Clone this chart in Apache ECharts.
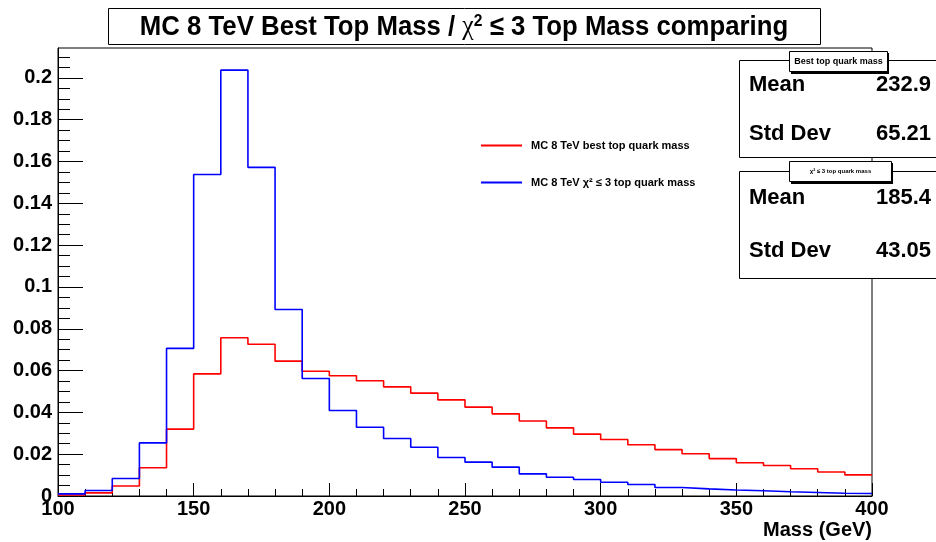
<!DOCTYPE html>
<html>
<head>
<meta charset="utf-8">
<script src="https://cdn.jsdelivr.net/npm/echarts@6/dist/echarts.min.js"></script>
<style>html,body{margin:0;padding:0;background:#fff;}#c{width:936px;height:542px;}</style>
</head>
<body>
<div id="c"></div>
<script>
// ---- data ----
var binLow = [100,110,120,130,140,150,160,170,180,190,200,210,220,230,240,250,260,270,280,290,300,310,320,330,340,350,360,370,380,390];
var binHigh = 400;
var bestTop = [0.0005,0.0015,0.0048,0.0135,0.0320,0.0584,0.0757,0.0726,0.0645,0.0597,0.0575,0.0551,0.0522,0.0492,0.0460,0.0425,0.0393,0.0359,0.0326,0.0296,0.0270,0.0245,0.0222,0.0202,0.0179,0.0159,0.0146,0.0130,0.0115,0.0101];
var chi2Top = [0.0010,0.0026,0.0084,0.0254,0.0706,0.1538,0.2037,0.1572,0.0892,0.0562,0.0409,0.0329,0.0275,0.0233,0.0184,0.0162,0.0138,0.0106,0.0090,0.0079,0.0066,0.0055,0.0041,0.0034,0.0029,0.0025,0.0020,0.0017,0.0013,0.0012];
var yTickValues = [0,0.02,0.04,0.06,0.08,0.1,0.12,0.14,0.16,0.18,0.2];
var yTickLabels = ['0','0.02','0.04','0.06','0.08','0.1','0.12','0.14','0.16','0.18','0.2'];
var xTickLabels = ['100','150','200','250','300','350','400'];
var seriesNames = ['MC 8 TeV best top quark mass','MC 8 TeV \u03c7\u00b2 \u2264 3 top quark mass'];
var stats1 = {title:'Best top quark mass', mean:'232.9', std:'65.21'};
var stats2 = {title:'\u03c7\u00b2 \u2264 3 top quark mass', mean:'185.4', std:'43.05'};

function histPoints(vals){
  var pts = [];
  for (var i=0;i<vals.length;i++) pts.push([binLow[i], vals[i]]);
  pts.push([binHigh, vals[vals.length-1]]);
  return pts;
}
var yMinor = [];
for (var k=1;k<=42;k++){ if (k%4!==0) yMinor.push(+(k*0.005).toFixed(3)); }

var FF = '"Liberation Sans", Arial, Helvetica, sans-serif';
var chart = echarts.init(document.getElementById('c'), null, {renderer:'canvas'});

function statBox(s, top, h, tabTop, tabW, tabFont, rowY1, rowY2){
  return [
    {type:'rect', shape:{x:739.5,y:top+0.5,width:220,height:h}, style:{fill:'#fff',stroke:'#000',lineWidth:1}, z:10},
    {type:'rect', shape:{x:791,y:tabTop+2,width:tabW,height:21}, style:{fill:'#000'}, z:11},
    {type:'rect', shape:{x:789.5,y:tabTop+0.5,width:tabW,height:20}, style:{fill:'#fff',stroke:'#000',lineWidth:1}, z:12},
    {type:'text', x:789.5+tabW/2, y:tabTop+10.5, style:{text:s.title, fontFamily:FF, fontWeight:'bold', fontSize:tabFont, fill:'#000', align:'center', verticalAlign:'middle'}, z:13},
    {type:'text', x:749, y:rowY1, style:{text:'Mean', fontFamily:FF, fontWeight:'bold', fontSize:22, fill:'#000', align:'left', verticalAlign:'middle'}, z:13},
    {type:'text', x:931, y:rowY1, style:{text:s.mean, fontFamily:FF, fontWeight:'bold', fontSize:22, fill:'#000', align:'right', verticalAlign:'middle'}, z:13},
    {type:'text', x:749, y:rowY2, style:{text:'Std Dev', fontFamily:FF, fontWeight:'bold', fontSize:22, fill:'#000', align:'left', verticalAlign:'middle'}, z:13},
    {type:'text', x:931, y:rowY2, style:{text:s.std, fontFamily:FF, fontWeight:'bold', fontSize:22, fill:'#000', align:'right', verticalAlign:'middle'}, z:13}
  ];
}

var graphics = [
  {type:'rect', shape:{x:108.5,y:8.5,width:712,height:36}, style:{fill:'#fff',stroke:'#000',lineWidth:1}, z:10},
  {type:'text', x:464, y:27, scaleX:0.92, z:11,
   style:{text:'MC 8 TeV Best Top Mass / {chi|\u03c7}{sup|2} \u2264 3 Top Mass comparing',
     fontFamily:FF, fontWeight:'bold', fontSize:28, fill:'#000', align:'center', verticalAlign:'middle',
     rich:{chi:{fontFamily:'"Liberation Serif", serif', fontSize:28, fontWeight:'normal', fill:'#000'},
           sup:{fontFamily:FF, fontSize:17, fontWeight:'bold', fill:'#000', padding:[0,0,11,0]}}}},
  {type:'text', x:872, y:530, z:11, style:{text:'Mass (GeV)', fontFamily:FF, fontWeight:'bold', fontSize:20, fill:'#000', align:'right', verticalAlign:'middle'}}
].concat(statBox(stats1, 60, 97, 51, 98, 9, 85, 134)).concat(statBox(stats2, 171, 107, 161, 102, 6, 198, 251));

chart.setOption({
  animation:false,
  backgroundColor:'#fff',
  grid:{left:58, right:64, top:48, bottom:46, show:true, borderColor:'#000', borderWidth:1, backgroundColor:'transparent'},
  legend:{
    orient:'vertical', left:481, top:140, padding:0, itemWidth:41, itemHeight:2, itemGap:26, icon:'rect',
    data:seriesNames,
    textStyle:{fontFamily:FF, fontWeight:'bold', fontSize:11, color:'#000', padding:[0,0,0,4]}
  },
  xAxis:{
    type:'value', min:100, max:400, interval:50,
    axisLine:{show:true, onZero:false, lineStyle:{color:'#000', width:1}},
    axisTick:{show:true, inside:true, length:13, lineStyle:{color:'#000', width:1}},
    minorTick:{show:true, splitNumber:5, length:7, lineStyle:{color:'#000', width:1}},
    splitLine:{show:false},
    axisLabel:{fontFamily:FF, fontWeight:'bold', fontSize:20, color:'#000', margin:3,
      formatter:function(v){ var i=Math.round((v-100)/50); return xTickLabels[i]; }}
  },
  yAxis:[{
    type:'value', min:0, max:0.2143,
    axisLine:{show:true, lineStyle:{color:'#000', width:1}},
    axisTick:{show:true, inside:true, length:25, customValues:yTickValues, lineStyle:{color:'#000', width:1}},
    splitLine:{show:false},
    axisLabel:{fontFamily:FF, fontWeight:'bold', fontSize:20, color:'#000', margin:6, customValues:yTickValues,
      formatter:function(v){ var i=yTickValues.indexOf(+v.toFixed(2)); return i>=0?yTickLabels[i]:''; }}
  },{
    type:'value', min:0, max:0.2143, position:'left',
    axisLine:{show:false},
    axisTick:{show:true, inside:true, length:12, customValues:yMinor, lineStyle:{color:'#000', width:1}},
    splitLine:{show:false},
    axisLabel:{show:false}
  }],
  series:[
    {name:seriesNames[0], type:'line', step:'end', data:histPoints(bestTop), showSymbol:false, symbol:'none',
     lineStyle:{color:'#ff0000', width:1.6}, itemStyle:{color:'#ff0000'}, z:3},
    {name:seriesNames[1], type:'line', step:'end', data:histPoints(chi2Top), showSymbol:false, symbol:'none',
     lineStyle:{color:'#0000ff', width:1.6}, itemStyle:{color:'#0000ff'}, z:4}
  ],
  graphic:graphics
});
</script>
</body>
</html>
